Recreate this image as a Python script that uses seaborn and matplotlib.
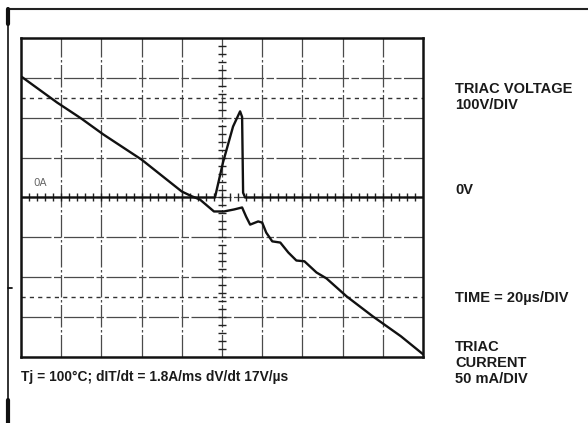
import numpy as np
import seaborn as sns
import matplotlib.pyplot as plt
from matplotlib.lines import Line2D

# scope traces (time in us, 20 us/div)
volt_t = [0.5, 18, 30, 41, 60, 80, 85, 89, 96, 101, 106, 110, 112, 114, 118, 120,
          122, 125, 129, 133, 137, 141, 147, 152, 162, 175, 189, 200]
volt_v = [302, 238, 198, 158, 95, 15, 3, -5, -35, -35, -30, -25, -48, -68, -60, -63,
          -88, -110, -113, -138, -158, -160, -188, -203, -248, -298, -348, -393]

curr_t = [0, 96.5, 100.5, 105.5, 109, 110, 110.5, 111.5, 200]
curr_ma = [0, 0, 44, 89, 108, 101, 6, 0, 0]

side_labels = ["TRIAC VOLTAGE\n100V/DIV", "0V", "TIME = 20\u00b5s/DIV", "TRIAC\nCURRENT\n50 mA/DIV"]
note = "Tj = 100\u00b0C; dIT/dt = 1.8A/ms dV/dt 17V/\u00b5s"

sns.set_style("white")
plt.rcParams['font.family'] = ['Liberation Sans', 'DejaVu Sans']

W, H = 588, 423
fig = plt.figure(figsize=(W / 100, H / 100), dpi=100)
ax = fig.add_axes([21 / W, (H - 357) / H, 402 / W, 319 / H])
ax.set_xlim(0, 200)
ax.set_ylim(-400, 400)

# graticule
for x in np.arange(20, 200, 20):
    ax.axvline(x, color="#4a4a4a", lw=0.9, ls=(0, (18, 2, 2, 2)), zorder=1)
for y in np.arange(-300, 400, 100):
    ax.axhline(y, color="#4a4a4a", lw=0.9, ls=(0, (24, 2, 6, 2)), zorder=1)
for y in (250, -250):
    ax.axhline(y, color="#333333", lw=1.0, ls=(0, (3, 3)), zorder=1)

# minor ticks on the centre lines
tx = np.arange(4, 200, 4)
ax.plot(tx, np.zeros_like(tx), ls="none", marker="|", ms=6, mew=1.0, color="#222222", zorder=2)
ty = np.arange(-380, 400, 20)
ax.plot(np.full_like(ty, 100), ty, ls="none", marker="_", ms=6, mew=1.0, color="#222222", zorder=2)

sns.lineplot(x=volt_t, y=volt_v, ax=ax, sort=False, estimator=None, color="#111111", lw=1.7, zorder=3)

ax2 = ax.twinx()
ax2.set_ylim(-200, 200)
sns.lineplot(x=curr_t, y=curr_ma, ax=ax2, sort=False, estimator=None, color="#111111", lw=1.7, zorder=3)
ax2.axis("off")

ax.set_xticks([])
ax.set_yticks([])
for s in ax.spines.values():
    s.set_color("#111111")
    s.set_linewidth(1.8)

ax.text(6, 30, "0A", fontsize=7.5, color="#666666", family="DejaVu Sans")

# outer frame
fig.add_artist(Line2D([8 / W, 1], [1 - 9 / H, 1 - 9 / H], color="#222222", lw=1.5))
fig.add_artist(Line2D([8 / W, 8 / W], [1 - 9 / H, 0], color="#222222", lw=1.3))
fig.add_artist(Line2D([8 / W, 8 / W], [1 - 9 / H, 1 - 24 / H], color="#111111", lw=3))
fig.add_artist(Line2D([8 / W, 8 / W], [1 - 400 / H, 0], color="#111111", lw=3))
fig.add_artist(Line2D([8 / W, 12 / W], [1 - 288 / H, 1 - 288 / H], color="#111111", lw=1.3))

kw = dict(fontweight="bold", color="#1a1a1a", va="center", ha="left", linespacing=1.2)
fig.text(455 / W, 1 - 97 / H, side_labels[0], fontsize=10.5, **kw)
fig.text(455 / W, 1 - 190 / H, side_labels[1], fontsize=10.5, **kw)
fig.text(455 / W, 1 - 298 / H, side_labels[2], fontsize=10.5, **kw)
fig.text(455 / W, 1 - 363 / H, side_labels[3], fontsize=10.5, **kw)
fig.text(21 / W, 1 - 377 / H, note, fontsize=9.9, **kw)

fig.savefig("out.png", dpi=100)
